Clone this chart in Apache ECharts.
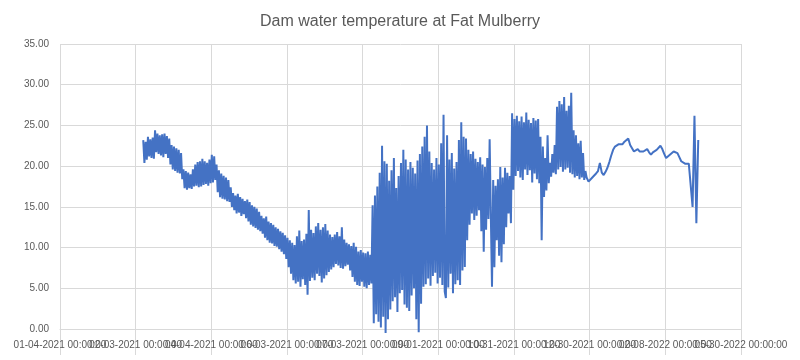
<!DOCTYPE html>
<html>
<head>
<meta charset="utf-8">
<script src="https://cdn.jsdelivr.net/npm/echarts@6/dist/echarts.min.js"></script>
<style>
  html, body { margin: 0; padding: 0; background: #ffffff; }
  #chart { width: 800px; height: 360px; }
</style>
</head>
<body>
<div id="chart"></div>
<script>
// Tick labels of the x axis (one per major gridline)
const xLabels = [
  "01-04-2021 00:00:00", "02-03-2021 00:00:00", "04-04-2021 00:00:00",
  "06-03-2021 00:00:00", "07-03-2021 00:00:00", "09-01-2021 00:00:00",
  "10-31-2021 00:00:00", "12-30-2021 00:00:00", "02-08-2022 00:00:00",
  "05-30-2022 00:00:00"
];
const yTicks = [0, 5, 10, 15, 20, 25, 30, 35];

// Readings are evenly spaced along the axis inside each segment (axis units)
const autumnStart = 1.10, autumnStep = 0.015625;
const springStart = 4.10, springStep = 0.015625;
const summerStart = 6.96, summerStep = 0.025;

// Dam water temperature readings (°C)
const tempAutumnWinter = [
  23.2, 20.4, 23.0, 20.8, 23.6, 21.2, 23.3, 21.0, 23.5, 20.9, 24.4, 21.7, 24.0, 21.5, 23.8, 21.3,
  23.9, 21.1, 24.0, 21.5, 23.7, 21.0, 23.4, 20.2, 22.6, 19.6, 22.4, 19.4, 22.2, 19.2, 22.0, 19.1,
  21.6, 18.4, 19.6, 17.3, 19.4, 17.1, 19.2, 17.3, 19.0, 17.2, 19.6, 17.5, 20.2, 17.6, 20.5, 17.4,
  20.6, 17.5, 20.9, 17.7, 20.6, 17.8, 20.4, 17.6, 20.8, 17.9, 21.4, 18.0, 21.2, 18.3, 20.2, 16.8,
  19.5, 16.2, 19.1, 16.0, 18.8, 15.9, 18.6, 15.7, 18.3, 15.6, 17.4, 15.0, 16.7, 14.6, 16.4, 14.2,
  16.6, 14.3, 16.2, 13.9, 16.0, 14.1, 15.7, 13.6, 15.9, 13.2, 15.6, 12.8, 15.2, 12.6, 15.0, 12.4,
  14.8, 12.2, 14.4, 12.0, 13.9, 11.7, 13.6, 11.2, 13.8, 10.9, 13.2, 10.6, 13.0, 10.5, 12.8, 10.2,
  12.5, 10.1, 12.3, 9.8, 12.0, 9.5, 11.8, 9.2, 11.5, 8.6, 11.2, 7.6, 10.9, 6.8, 10.6, 6.0,
  10.3, 5.6, 11.4, 5.8, 12.1, 5.2, 10.8, 6.1, 11.0, 5.4, 11.7, 4.2, 14.6, 5.9, 12.2, 6.3,
  11.8, 6.0, 12.6, 6.8, 13.0, 6.5, 12.2, 5.7, 12.5, 6.2, 12.9, 6.6, 12.1, 7.0, 11.6, 7.3,
  11.3, 7.6, 11.6, 8.0, 11.9, 7.8, 11.4, 7.5, 12.5, 7.4, 11.0, 7.7, 10.6, 7.9, 10.4, 7.2,
  10.2, 6.4, 10.6, 5.8, 10.1, 5.4, 9.5, 5.3, 9.7, 5.8, 9.4, 5.2, 9.3, 5.0, 9.5, 5.4
];
const tempSpring = [
  9.1, 5.6, 15.2, 0.7, 16.4, 1.8, 17.5, 0.9, 19.2, 0.2, 22.5, 1.5, 20.6, -0.5, 20.3, 1.2,
  18.2, 2.4, 19.5, 3.4, 21.0, 3.9, 17.3, 2.1, 18.8, 4.4, 20.4, 4.8, 22.0, 3.0, 20.8, 2.6,
  19.6, 2.2, 20.5, 4.1, 19.8, 5.0, 19.1, 1.2, 20.7, -0.4, 21.5, 3.1, 22.4, 5.2, 23.6, 5.5,
  25.0, 6.2, 21.8, 5.3, 20.4, 6.5, 19.6, 6.9, 21.0, 5.6, 20.2, 6.3, 22.8, 5.4, 26.3, 4.6,
  3.8, 23.8, 5.1, 20.8, 6.8, 21.6, 4.4, 19.7, 5.5, 20.5, 6.0, 23.2, 5.4, 25.4, 7.2, 23.6,
  7.6, 23.4, 10.9, 22.0, 12.8, 21.5, 14.2, 21.8, 13.4, 20.9, 13.9, 20.5, 14.6, 21.1, 12.0, 20.2,
  9.5, 19.9, 12.2, 21.0, 13.5, 23.3, 14.0, 5.2, 18.3, 7.6, 17.6, 10.9, 18.4, 9.0, 19.9, 8.2,
  18.6, 10.4, 19.8, 12.5, 19.2, 14.2, 18.8, 13.0, 26.5, 17.1, 25.8, 18.8, 26.2, 19.4, 25.5, 18.6,
  26.1, 18.3, 25.4, 19.6, 26.6, 18.9, 25.7, 19.5, 25.3, 18.0, 25.9, 19.1, 25.6, 18.4, 25.8, 17.9,
  23.6, 10.9, 22.4, 16.2, 21.0, 17.0, 23.8, 17.9, 20.4, 18.7, 21.5, 19.2, 22.6, 19.0, 27.3, 19.6,
  28.0, 19.9, 27.6, 19.3, 28.5, 19.6, 26.8, 19.8, 27.4, 19.2, 29.0, 19.0, 24.4, 18.6, 23.8, 18.8,
  22.8, 18.4, 23.1, 18.6, 21.6, 18.3, 19.4
];
const tempSummer = [
  18.6, 18.1, 18.3, 18.6, 18.8, 19.1,
  19.4, 20.4, 19.2, 18.9, 19.3, 19.8, 20.5, 21.3, 22.0, 22.4,
  22.6, 22.7, 22.8, 22.7, 23.0, 23.1, 23.4, 22.6, 22.2, 21.8,
  21.9, 22.1, 21.8, 21.6, 21.8, 21.9, 22.1, 21.7, 21.4, 21.7,
  21.8, 22.0, 22.1, 22.5, 22.1, 21.5, 21.0, 21.2, 21.4, 21.6,
  21.8, 21.7, 21.6, 21.1, 20.6, 20.4, 20.3, 20.2, 20.3, 20.5,
  15.0, 26.2, 13.0, 23.2
];

function place(values, start, step) {
  return values.map((t, i) => [start + step * i, t]);
}
const seriesData = place(tempAutumnWinter, autumnStart, autumnStep)
  .concat(place(tempSpring, springStart, springStep))
  .concat(place(tempSummer, summerStart, summerStep));

const gridColor = '#d9d9d9';
const textColor = '#595959';
const fontFam = '"Liberation Sans", Arial, sans-serif';

const labelStyle = { fontFamily: fontFam, fontSize: 10, color: textColor, margin: 11,
  hideOverlap: false, showMinLabel: true, showMaxLabel: true };

const chart = echarts.init(document.getElementById('chart'), null, { renderer: 'canvas' });
chart.setOption({
  animation: false,
  backgroundColor: '#ffffff',
  title: {
    text: 'Dam water temperature at Fat Mulberry',
    left: 'center',
    top: 9,
    textStyle: { fontFamily: fontFam, fontSize: 16, fontWeight: 'normal', color: textColor }
  },
  grid: { left: 60, right: 59, top: 44, bottom: 31, containLabel: false },
  xAxis: [{
    type: 'value',
    position: 'bottom',
    min: 0,
    max: xLabels.length - 1,
    interval: 1,
    axisLine: { show: true, lineStyle: { color: gridColor, width: 1 } },
    axisTick: { show: true, length: 26, lineStyle: { color: gridColor, width: 1 } },
    splitLine: { show: true, lineStyle: { color: gridColor, width: 1 } },
    axisLabel: Object.assign({}, labelStyle, {
      formatter: v => { const k = Math.round(v); return k % 2 === 0 ? (xLabels[k] || '') : ''; }
    })
  }, {
    type: 'value',
    position: 'bottom',
    offset: 0,
    min: 0,
    max: xLabels.length - 1,
    interval: 1,
    axisLine: { show: false },
    axisTick: { show: false },
    splitLine: { show: false },
    axisLabel: Object.assign({}, labelStyle, {
      formatter: v => { const k = Math.round(v); return k % 2 === 1 ? (xLabels[k] || '') : ''; }
    })
  }],
  yAxis: {
    type: 'value',
    min: yTicks[0],
    max: yTicks[yTicks.length - 1],
    interval: 5,
    axisLine: { show: false },
    axisTick: { show: false },
    splitLine: { show: true, lineStyle: { color: gridColor, width: 1 } },
    axisLabel: {
      formatter: v => v.toFixed(2),
      fontFamily: fontFam, fontSize: 10, color: textColor, margin: 11
    }
  },
  series: [{
    type: 'line',
    xAxisIndex: 0,
    data: seriesData,
    showSymbol: false,
    symbol: 'none',
    clip: false,
    sampling: null,
    lineStyle: { color: '#4472C4', width: 2 },
    itemStyle: { color: '#4472C4' }
  }]
});
</script>
</body>
</html>
